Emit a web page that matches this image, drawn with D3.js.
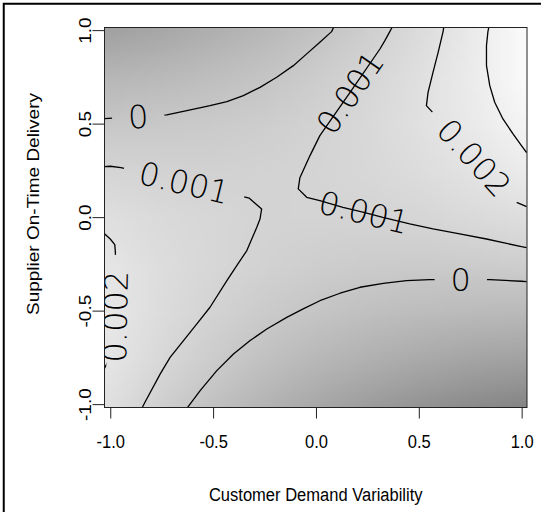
<!DOCTYPE html>
<html>
<head>
<meta charset="utf-8">
<script src="https://cdn.jsdelivr.net/npm/d3@7"></script>
<style>
  html, body { margin: 0; padding: 0; background: #ffffff; }
  svg { display: block; }
</style>
</head>
<body>
<svg id="chart" width="541" height="512"></svg>
<script>
// ---- axis ticks ----
const xTicks = [-1, -0.5, 0, 0.5, 1];
const xTickLabels = ["-1.0", "-0.5", "0.0", "0.5", "1.0"];
const yTicks = [-1, -0.5, 0, 0.5, 1];
const yTickLabels = ["-1.0", "-0.5", "0.0", "0.5", "1.0"];
const xTitle = "Customer Demand Variability";
const yTitle = "Supplier On-Time Delivery";

// ---- response surface on a regular grid (rows run from y = 1 down to y = -1) ----
const gridX = [-1, -0.75, -0.5, -0.25, 0, 0.25, 0.5, 0.75, 1];
const gridY = [1, 0.75, 0.5, 0.25, 0, -0.25, -0.5, -0.75, -1];
const surface = [
  [-0.00262, -0.00217, -0.00163, -0.00098, -0.00024, 0.00060, 0.00153, 0.00257, 0.00370],
  [-0.00112, -0.00087, -0.00053, -0.00008, 0.00046, 0.00110, 0.00184, 0.00268, 0.00361],
  [ 0.00011,  0.00016,  0.00031,  0.00055, 0.00090, 0.00134, 0.00188, 0.00252, 0.00325],
  [ 0.00107,  0.00092,  0.00087,  0.00092, 0.00106, 0.00130, 0.00165, 0.00208, 0.00262],
  [ 0.00175,  0.00141,  0.00116,  0.00101, 0.00095, 0.00100, 0.00114, 0.00138, 0.00172],
  [ 0.00217,  0.00162,  0.00118,  0.00083, 0.00057, 0.00042, 0.00036, 0.00041, 0.00055],
  [ 0.00231,  0.00157,  0.00092,  0.00037, -0.00008, -0.00043, -0.00068, -0.00084, -0.00090],
  [ 0.00219,  0.00124,  0.00040, -0.00035, -0.00100, -0.00155, -0.00200, -0.00236, -0.00262],
  [ 0.00179,  0.00065, -0.00040, -0.00134, -0.00219, -0.00294, -0.00359, -0.00415, -0.00460]
];

// ---- contour lines of the surface, as [x, y] points ----
const contourLevels = [0, 0.001, 0.002, 0.003];
const level0Upper = [
  [-1.029, 0.527], [-0.864, 0.537], [-0.725, 0.547], [-0.628, 0.570], [-0.515, 0.596],
  [-0.433, 0.618], [-0.353, 0.650], [-0.272, 0.694], [-0.191, 0.748], [-0.110, 0.810],
  [-0.045, 0.873], [0.019, 0.935], [0.076, 0.992], [0.085, 1.013]
];
const level0Lower = [
  [-0.625, -1.019], [-0.603, -0.987], [-0.563, -0.928], [-0.482, -0.821], [-0.401, -0.732],
  [-0.320, -0.660], [-0.239, -0.598], [-0.142, -0.536], [-0.062, -0.491], [0.019, -0.447],
  [0.117, -0.407], [0.214, -0.375], [0.327, -0.354], [0.440, -0.340], [0.553, -0.334],
  [0.704, -0.334], [0.845, -0.334], [0.999, -0.343], [1.024, -0.345]
];
const level1Left = [
  [-1.029, 0.270], [-1.000, 0.272], [-0.948, 0.265], [-0.641, 0.184], [-0.324, 0.101],
  [-0.264, 0.044], [-0.272, -0.010], [-0.288, -0.055], [-0.336, -0.179], [-0.385, -0.259],
  [-0.433, -0.340], [-0.515, -0.482], [-0.579, -0.571], [-0.644, -0.660], [-0.709, -0.750],
  [-0.757, -0.838], [-0.830, -0.987], [-0.845, -1.019]
];
const level1Right = [
  [0.369, 1.013], [0.359, 0.992], [0.335, 0.944], [0.311, 0.899], [0.165, 0.666],
  [0.019, 0.436], [-0.029, 0.329], [-0.078, 0.211], [-0.086, 0.151], [-0.045, 0.106],
  [0.019, 0.088], [0.131, 0.052], [0.233, 0.026], [0.325, -0.001], [0.456, -0.036],
  [0.569, -0.063], [0.699, -0.090], [0.829, -0.117], [0.999, -0.158], [1.024, -0.163]
];
const level2Upper = [
  [0.621, 1.013], [0.618, 0.992], [0.594, 0.881], [0.569, 0.774], [0.545, 0.667],
  [0.537, 0.596], [0.769, 0.318], [0.956, 0.088], [1.024, 0.056]
];
const level2Left = [
  [-1.029, -0.088], [-1.000, -0.117], [-0.978, -0.147], [-0.975, -0.190],
  [-0.975, -0.532], [-0.985, -0.720], [-1.029, -0.810]
];
const level3Upper = [
  [0.840, 1.013], [0.836, 0.992], [0.829, 0.917], [0.829, 0.810], [0.845, 0.703],
  [0.869, 0.614], [0.909, 0.525], [0.958, 0.445], [0.999, 0.382], [1.024, 0.345]
];

// which vertex carries the level label, and whether the line breaks around it
const contourLines = [
  { level: contourLevels[0], points: level0Upper, labelAt: 1, gap: true },
  { level: contourLevels[0], points: level0Lower, labelAt: 15, gap: true },
  { level: contourLevels[1], points: level1Left, labelAt: 3, gap: true },
  { level: contourLevels[1], points: level1Right, labelAt: 4, gap: false },
  { level: contourLevels[1], points: level1Right, labelAt: 12, gap: false, labelOnly: true },
  { level: contourLevels[2], points: level2Upper, labelAt: 6, gap: true },
  { level: contourLevels[2], points: level2Left, labelAt: 4, gap: true },
  { level: contourLevels[3], points: level3Upper, labelAt: null, gap: false }
];

// ---- layout ----
const W = 541, H = 512;
const x = d3.scaleLinear().domain([-1.028, 1.026]).range([104.5, 527]);
const y = d3.scaleLinear().domain([-1.018, 1.014]).range([407.5, 27.5]);
const px0 = x.range()[0], px1 = x.range()[1];
const py0 = y.range()[1], py1 = y.range()[0];
// axis text is set slightly narrow (horizontal squeeze)
const squeeze = 0.87;
const axisFont = "'Liberation Sans', Arial, sans-serif";
const axisSize = 19;

const svg = d3.select("#chart");
const defs = svg.append("defs");

defs.append("clipPath").attr("id", "plotClip")
  .append("rect")
  .attr("x", px0).attr("y", py0)
  .attr("width", px1 - px0).attr("height", py1 - py0);

// grey shading of the surface: low values dark, high values light
const grey = d3.scaleLinear().domain([-0.0046, 0.0037]).range(["#868686", "#fafafa"]);
const canvas = document.createElement("canvas");
canvas.width = gridX.length;
canvas.height = gridY.length;
const ctx = canvas.getContext("2d");
surface.forEach((row, j) => row.forEach((v, i) => {
  ctx.fillStyle = grey(v);
  ctx.fillRect(i, j, 1, 1);
}));
const stepX = gridX[1] - gridX[0];
const stepY = gridY[0] - gridY[1];
const imgX0 = x(gridX[0] - stepX / 2), imgX1 = x(gridX[gridX.length - 1] + stepX / 2);
const imgY0 = y(gridY[0] + stepY / 2), imgY1 = y(gridY[gridY.length - 1] - stepY / 2);
svg.append("g").attr("clip-path", "url(#plotClip)")
  .append("image")
  .attr("href", canvas.toDataURL())
  .attr("x", imgX0).attr("y", imgY0)
  .attr("width", imgX1 - imgX0).attr("height", imgY1 - imgY0)
  .attr("preserveAspectRatio", "none")
  .style("image-rendering", "auto");

// ---- contour labels ----
const labelFmt = v => String(v);
const labels = contourLines.filter(c => c.labelAt != null).map(c => {
  const p = c.points[c.labelAt];
  const a = c.points[c.labelAt - 1];
  const b = c.points[c.labelAt + 1];
  let ang = Math.atan2(y(b[1]) - y(a[1]), x(b[0]) - x(a[0])) * 180 / Math.PI;
  if (ang > 90) ang -= 180;
  if (ang <= -90) ang += 180;
  return { text: labelFmt(c.level), cx: x(p[0]), cy: y(p[1]), ang, gap: c.gap };
});

const labelLayer = svg.append("g").attr("clip-path", "url(#plotClip)");
const labelText = labelLayer.selectAll("text").data(labels).join("text")
  .attr("transform", d => `translate(${d.cx},${d.cy}) rotate(${d.ang})`)
  .attr("text-anchor", "middle")
  .attr("dy", "0.36em")
  .attr("font-family", "'DejaVu Sans', 'Liberation Sans', sans-serif")
  .attr("font-weight", 200)
  .attr("font-size", 32)
  .attr("fill", "#000")
  .text(d => d.text);
labelText.each(function (d) { d.w = this.getComputedTextLength(); });

// gaps in the contour lines behind the labels
const gapMask = defs.append("mask").attr("id", "labelGaps")
  .attr("maskUnits", "userSpaceOnUse")
  .attr("x", 0).attr("y", 0).attr("width", W).attr("height", H);
gapMask.append("rect").attr("width", W).attr("height", H).attr("fill", "#fff");
gapMask.selectAll("rect.gap").data(labels.filter(d => d.gap)).join("rect")
  .attr("class", "gap")
  .attr("x", d => -d.w / 2 - 16).attr("y", -8)
  .attr("width", d => d.w + 32).attr("height", 16)
  .attr("transform", d => `translate(${d.cx},${d.cy}) rotate(${d.ang})`)
  .attr("fill", "#000");

// ---- contour lines ----
const lineGen = d3.line().x(d => x(d[0])).y(d => y(d[1]));
svg.append("g").attr("clip-path", "url(#plotClip)")
  .append("g").attr("mask", "url(#labelGaps)")
  .selectAll("path").data(contourLines.filter(c => !c.labelOnly)).join("path")
  .attr("d", c => lineGen(c.points))
  .attr("fill", "none")
  .attr("stroke", "#000")
  .attr("stroke-width", 1.3)
  .attr("stroke-linejoin", "round");

// keep labels above the lines
labelLayer.raise();

// ---- plot box ----
svg.append("rect")
  .attr("x", px0).attr("y", py0)
  .attr("width", px1 - px0).attr("height", py1 - py0)
  .attr("fill", "none").attr("stroke", "#222").attr("stroke-width", 1);

// ---- axes ----
const xAxis = svg.append("g")
  .attr("transform", `translate(0,${py1})`)
  .call(d3.axisBottom(x).tickValues(xTicks)
    .tickFormat((d, i) => xTickLabels[i]).tickSize(11));
xAxis.select(".domain").remove();
xAxis.attr("font-family", axisFont).attr("font-size", axisSize);
xAxis.selectAll("line").attr("stroke", "#222");
xAxis.selectAll("text")
  .attr("x", 0).attr("y", 40.5).attr("dy", null)
  .attr("transform", `scale(${squeeze},1)`)
  .attr("fill", "#000");

const yAxis = svg.append("g")
  .attr("transform", `translate(${px0},0)`)
  .call(d3.axisLeft(y).tickValues(yTicks)
    .tickFormat((d, i) => yTickLabels[i]).tickSize(12));
yAxis.select(".domain").remove();
yAxis.attr("font-family", axisFont).attr("font-size", axisSize);
yAxis.selectAll("line").attr("stroke", "#222");
yAxis.selectAll("text")
  .attr("transform", `scale(${squeeze},1) rotate(-90)`)
  .attr("x", 0).attr("y", -15.5).attr("dy", null)
  .attr("text-anchor", "middle")
  .attr("fill", "#000");

// ---- axis titles ----
svg.append("text")
  .attr("transform", `translate(${(px0 + px1) / 2},501) scale(${squeeze},1)`)
  .attr("text-anchor", "middle")
  .attr("font-family", axisFont).attr("font-size", axisSize)
  .attr("fill", "#000")
  .text(xTitle);
svg.append("text")
  .attr("transform", `translate(39,204) scale(${squeeze},1) rotate(-90)`)
  .attr("text-anchor", "middle")
  .attr("font-family", axisFont).attr("font-size", axisSize)
  .attr("fill", "#000")
  .text(yTitle);

// ---- outer frame ----
svg.append("rect")
  .attr("x", 3.75).attr("y", 3.75)
  .attr("width", W + 20).attr("height", H + 20)
  .attr("fill", "none").attr("stroke", "#000").attr("stroke-width", 2);
</script>
</body>
</html>
